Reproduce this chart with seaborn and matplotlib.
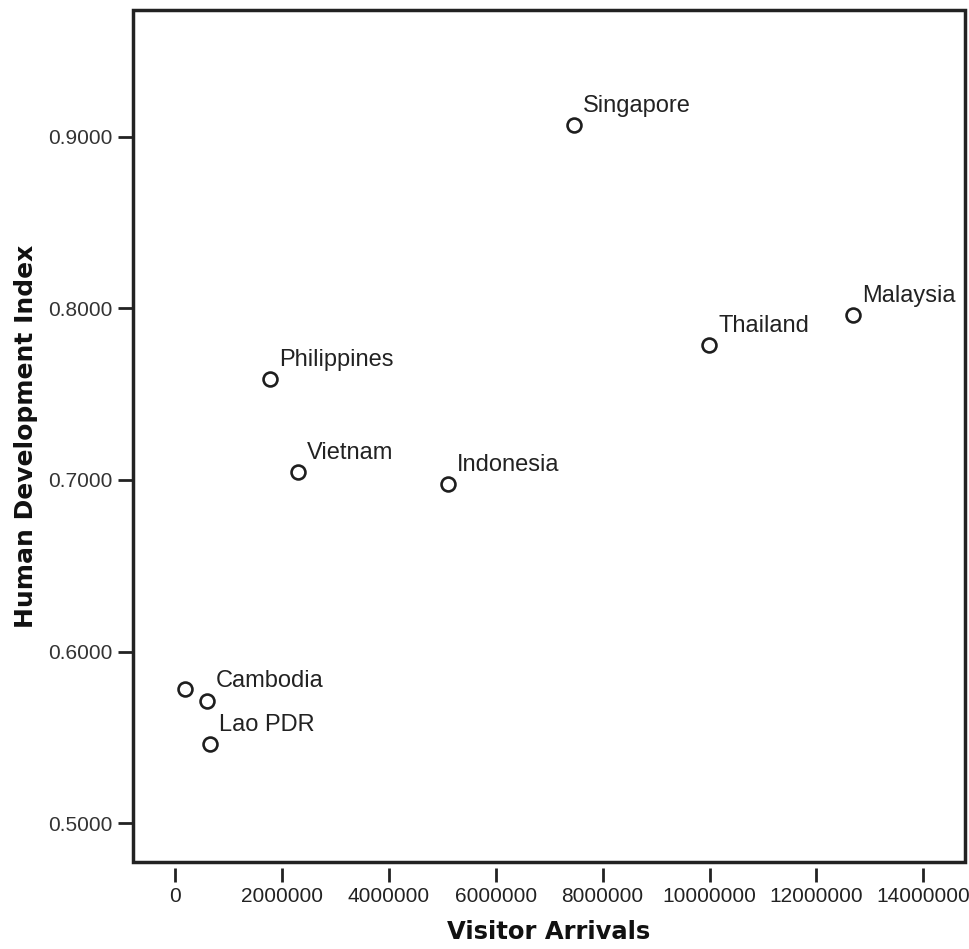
import matplotlib
matplotlib.use("Agg")
import matplotlib.pyplot as plt
import seaborn as sns
import pandas as pd
from matplotlib.patches import Rectangle

# Data
countries = ["Singapore", "Malaysia", "Thailand", "Philippines", "Vietnam",
             "Indonesia", "", "Cambodia", "Lao PDR"]
visitor_arrivals = [7465000, 12680000, 9990000, 1777000, 2300000,
                    5110000, 187000, 599000, 655000]
hdi = [0.907, 0.7959, 0.7784, 0.7586, 0.7047, 0.6977, 0.5784, 0.5714, 0.5458]

x_ticks = [0, 2000000, 4000000, 6000000, 8000000, 10000000, 12000000, 14000000]
y_ticks = [0.5, 0.6, 0.7, 0.8, 0.9]

df = pd.DataFrame({"Country": countries, "Visitor Arrivals": visitor_arrivals,
                   "Human Development Index": hdi})

sns.set_theme(style="white")
plt.rcParams["font.family"] = ["Liberation Sans", "DejaVu Sans"]

fig = plt.figure(figsize=(9.69, 9.49), dpi=100)
ax = fig.add_axes([0.1373, 0.0917, 0.8586, 0.8978])

# SPSS-like frame: full box, x ticks sit slightly below it
# (spine position first, it resets the tick setup)
for side in ["top", "right", "left"]:
    ax.spines[side].set_visible(False)
ax.spines["bottom"].set_linewidth(0)
ax.spines["bottom"].set_position(("outward", 4))
ax.add_patch(Rectangle((0, 0), 1, 1, transform=ax.transAxes, fill=False,
                       edgecolor="#222222", linewidth=2.5, clip_on=False, zorder=5))

sns.scatterplot(data=df, x="Visitor Arrivals", y="Human Development Index",
                ax=ax, s=100, facecolor="white", edgecolor="#1e1e1e",
                linewidth=1.9, zorder=3)

# point labels, up and to the right of each marker
for _, row in df.iterrows():
    if row["Country"]:
        ax.annotate(row["Country"], (row["Visitor Arrivals"], row["Human Development Index"]),
                    xytext=(6.5, 9.5), textcoords="offset points", fontsize=17,
                    color="#222222", va="baseline", ha="left")

ax.set_xlim(-786000, 14780000)
ax.set_ylim(0.4773, 0.974)
ax.set_xticks(x_ticks)
ax.set_xticklabels([str(t) for t in x_ticks], fontsize=15)
ax.set_yticks(y_ticks)
ax.set_yticklabels(["%.4f" % t for t in y_ticks], fontsize=15)

ax.set_xlabel("Visitor Arrivals", fontsize=17.5, fontweight="bold",
              family="DejaVu Sans", labelpad=10, color="#111111")
ax.set_ylabel("Human Development Index", fontsize=18, fontweight="bold",
              family="DejaVu Sans", labelpad=7, color="#111111")

ax.tick_params(axis="x", direction="out", length=10, width=2, color="#222222",
               bottom=True, pad=4, labelcolor="#222222", labelsize=15)
ax.tick_params(axis="y", direction="out", length=11, width=2, color="#222222",
               left=True, pad=4, labelcolor="#333333", labelsize=15)

fig.savefig("out.png", dpi=100, facecolor="white")
